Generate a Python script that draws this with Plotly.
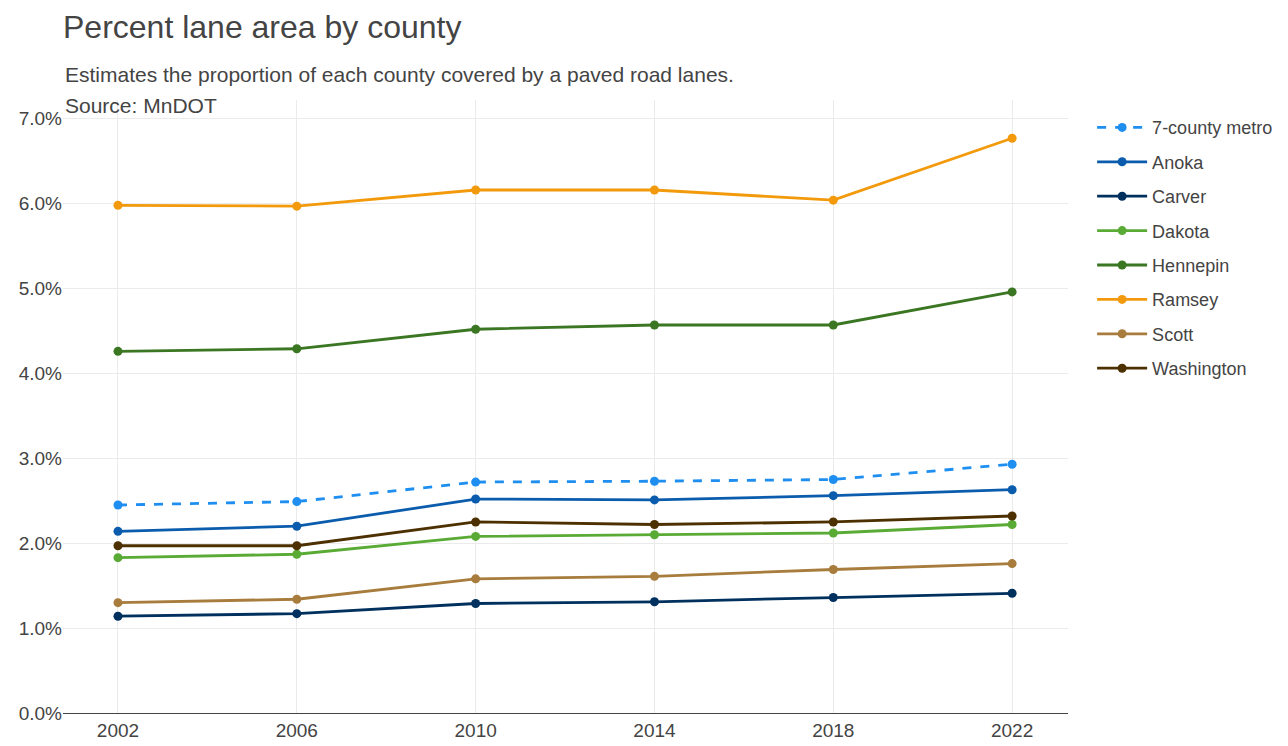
import plotly.graph_objects as go

# Data (percent of county area)
years = [2002, 2006, 2010, 2014, 2018, 2022]

metro7 = [2.45, 2.49, 2.72, 2.73, 2.75, 2.93]
anoka = [2.14, 2.20, 2.52, 2.51, 2.56, 2.63]
carver = [1.14, 1.17, 1.29, 1.31, 1.36, 1.41]
dakota = [1.83, 1.87, 2.08, 2.10, 2.12, 2.22]
hennepin = [4.26, 4.29, 4.52, 4.57, 4.57, 4.96]
ramsey = [5.98, 5.97, 6.16, 6.16, 6.04, 6.77]
scott = [1.30, 1.34, 1.58, 1.61, 1.69, 1.76]
washington = [1.97, 1.97, 2.25, 2.22, 2.25, 2.32]

names = ["7-county metro", "Anoka", "Carver", "Dakota", "Hennepin", "Ramsey", "Scott", "Washington"]
series = [metro7, anoka, carver, dakota, hennepin, ramsey, scott, washington]
colors = ["#1e8ff0", "#0b5cad", "#00305e", "#5aab35", "#3b7623", "#f29a0c", "#a77c3d", "#4d3000"]

FONT = "Liberation Sans, Arial, sans-serif"

fig = go.Figure()

for name, vals, col in zip(names, series, colors):
    fig.add_trace(go.Scatter(
        x=years, y=vals, name=name, legendgroup=name, mode="lines+markers",
        line=dict(color=col, width=2.8, dash="dash" if name == "7-county metro" else "solid"),
        marker=dict(color=col, size=9),
    ))

# page body has an 8px margin, so the figure is a bit smaller than the window
fig.update_layout(
    width=1280, height=738,
    plot_bgcolor="white", paper_bgcolor="white",
    font=dict(family=FONT, color="#444", size=18),
    margin=dict(l=55, r=220, t=92, b=33, autoexpand=False),
    legend=dict(x=1.024, y=0.985, xanchor="left", yanchor="top",
                font=dict(size=18), tracegroupgap=8, itemwidth=50),
    annotations=[
        dict(text="Percent lane area by county", x=0, y=1.0, xref="paper", yref="paper",
             xshift=-2, yshift=73, xanchor="left", yanchor="middle", showarrow=False,
             font=dict(size=32, color="#444")),
        dict(text="Estimates the proportion of each county covered by a paved road lanes.",
             x=0, y=1.0, xref="paper", yref="paper", xshift=0, yshift=26,
             xanchor="left", yanchor="middle", showarrow=False, font=dict(size=21, color="#444")),
        dict(text="Source: MnDOT", x=0, y=1.0, xref="paper", yref="paper", xshift=0, yshift=-5,
             xanchor="left", yanchor="middle", showarrow=False, font=dict(size=21, color="#444")),
    ],
)

fig.update_xaxes(
    range=[2000.77, 2023.25], tickvals=years, showgrid=True, gridcolor="#ebebeb",
    showline=True, linecolor="#444", linewidth=1, zeroline=False, ticks="",
    tickfont=dict(size=19), automargin=False,
)
fig.update_yaxes(
    range=[0, 7.22], dtick=1, tickformat=".1f", ticksuffix="%", showgrid=True, gridcolor="#ebebeb",
    zeroline=False, showline=False, tickfont=dict(size=19), automargin=False,
)

fig.write_html("out.html")
